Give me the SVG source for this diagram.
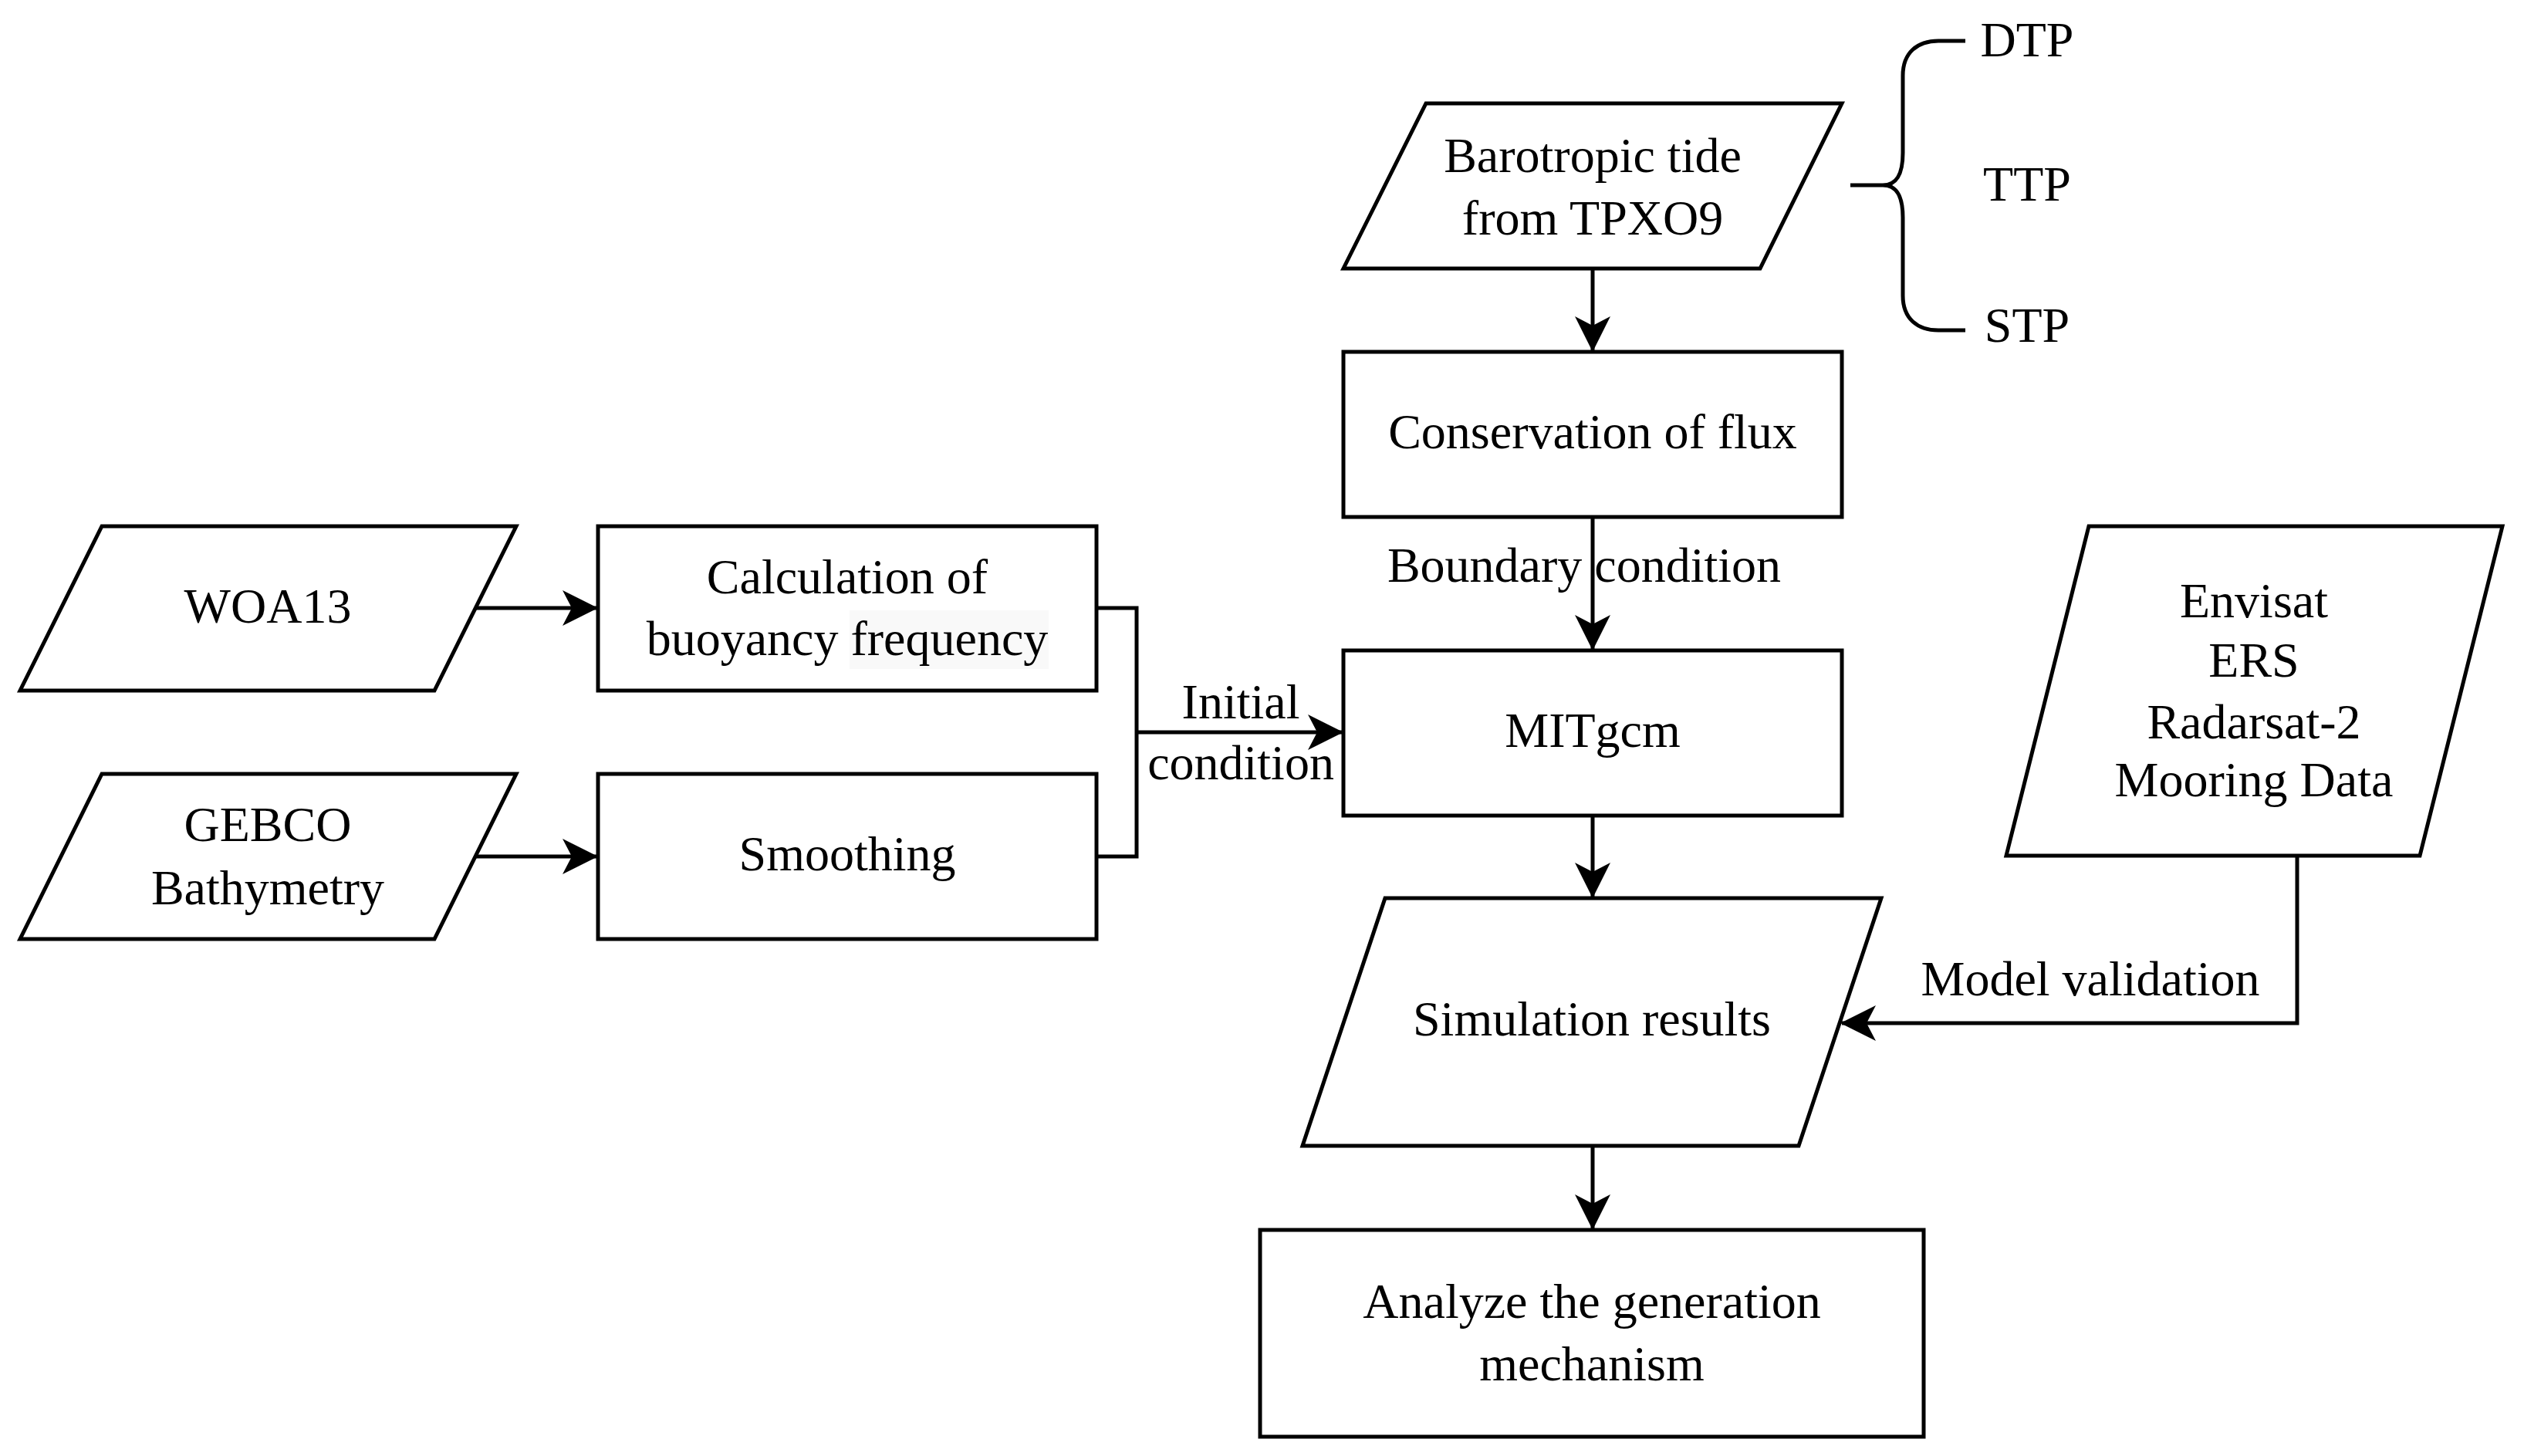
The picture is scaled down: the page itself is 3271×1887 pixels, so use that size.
<svg xmlns="http://www.w3.org/2000/svg" width="3271" height="1887" viewBox="0 0 3271 1887">
<style>
.shape{fill:#ffffff;stroke:#000000;stroke-width:5;stroke-linejoin:miter}
.conn{fill:none;stroke:#000000;stroke-width:5}
.t{font-family:"Liberation Serif","Times New Roman",serif;font-size:64px;fill:#000000;text-anchor:middle}
</style>
<defs>
<marker id="arrow" markerUnits="userSpaceOnUse" viewBox="0 -24 46 48" refX="44" refY="0" markerWidth="46" markerHeight="48" orient="auto">
<path d="M0,-23 L46,0 L0,23 L12,0 Z" fill="#000000"/>
</marker>
</defs>
<rect x="0" y="0" width="3271" height="1887" fill="#ffffff"/>

<g id="connectors">
<line class="conn" x1="616" y1="788" x2="773" y2="788" marker-end="url(#arrow)"/>
<line class="conn" x1="616" y1="1110" x2="773" y2="1110" marker-end="url(#arrow)"/>
<polyline class="conn" points="1421,788 1473,788 1473,1110 1421,1110"/>
<line class="conn" x1="1473" y1="949" x2="1739" y2="949" marker-end="url(#arrow)"/>
<line class="conn" x1="2064" y1="348" x2="2064" y2="454" marker-end="url(#arrow)"/>
<line class="conn" x1="2064" y1="670" x2="2064" y2="841" marker-end="url(#arrow)"/>
<line class="conn" x1="2064" y1="1057" x2="2064" y2="1162" marker-end="url(#arrow)"/>
<line class="conn" x1="2064" y1="1485" x2="2064" y2="1592" marker-end="url(#arrow)"/>
<polyline class="conn" points="2977,1109 2977,1326 2387,1326" marker-end="url(#arrow)"/>
<path class="conn" d="M2547,53 H2512 C2485,53 2466,68 2466,98 V198 C2466,226 2458,240 2440,240 H2398 M2440,240 C2458,240 2466,254 2466,282 V383 C2466,413 2485,428 2512,428 H2547"/>
<text class="t" x="2053" y="754">Boundary condition</text>
<text class="t" x="1608" y="931">Initial</text>
<text class="t" x="1608" y="1010">condition</text>
<text class="t" x="2709" y="1290">Model validation</text>
</g>

<g id="node-woa13">
<polygon class="shape" points="132,682 669,682 563,895 26,895"/>
<text class="t" x="347" y="807">WOA13</text>
</g>

<g id="node-calc">
<rect class="shape" x="775" y="682" width="646" height="213"/>
<rect x="1101" y="791" width="258" height="76" fill="#f9f9f9"/>
<text class="t" x="1098" y="769">Calculation of</text>
<text class="t" x="1098" y="849">buoyancy frequency</text>
</g>

<g id="node-gebco">
<polygon class="shape" points="132,1003 669,1003 563,1217 26,1217"/>
<text class="t" x="347" y="1090">GEBCO</text>
<text class="t" x="347" y="1172">Bathymetry</text>
</g>

<g id="node-smoothing">
<rect class="shape" x="775" y="1003" width="646" height="214"/>
<text class="t" x="1098" y="1128">Smoothing</text>
</g>

<g id="node-barotropic">
<polygon class="shape" points="1848,134 2387,134 2281,348 1741,348"/>
<text class="t" x="2064" y="223">Barotropic tide</text>
<text class="t" x="2064" y="304">from TPXO9</text>
</g>

<g id="node-tides">
<text class="t" x="2627" y="73">DTP</text>
<text class="t" x="2627" y="260">TTP</text>
<text class="t" x="2627" y="443">STP</text>
</g>

<g id="node-conservation">
<rect class="shape" x="1741" y="456" width="646" height="214"/>
<text class="t" x="2064" y="581">Conservation of flux</text>
</g>

<g id="node-mitgcm">
<rect class="shape" x="1741" y="843" width="646" height="214"/>
<text class="t" x="2064" y="968">MITgcm</text>
</g>

<g id="node-envisat">
<polygon class="shape" points="2707,682 3243,682 3136,1109 2600,1109"/>
<text class="t" x="2921" y="800">Envisat</text>
<text class="t" x="2921" y="877">ERS</text>
<text class="t" x="2921" y="957">Radarsat-2</text>
<text class="t" x="2921" y="1032">Mooring Data</text>
</g>

<g id="node-simulation">
<polygon class="shape" points="1795,1164 2438,1164 2331,1485 1688,1485"/>
<text class="t" x="2063" y="1342">Simulation results</text>
</g>

<g id="node-analyze">
<rect class="shape" x="1633" y="1594" width="860" height="268"/>
<text class="t" x="2063" y="1708">Analyze the generation</text>
<text class="t" x="2063" y="1789">mechanism</text>
</g>
</svg>
